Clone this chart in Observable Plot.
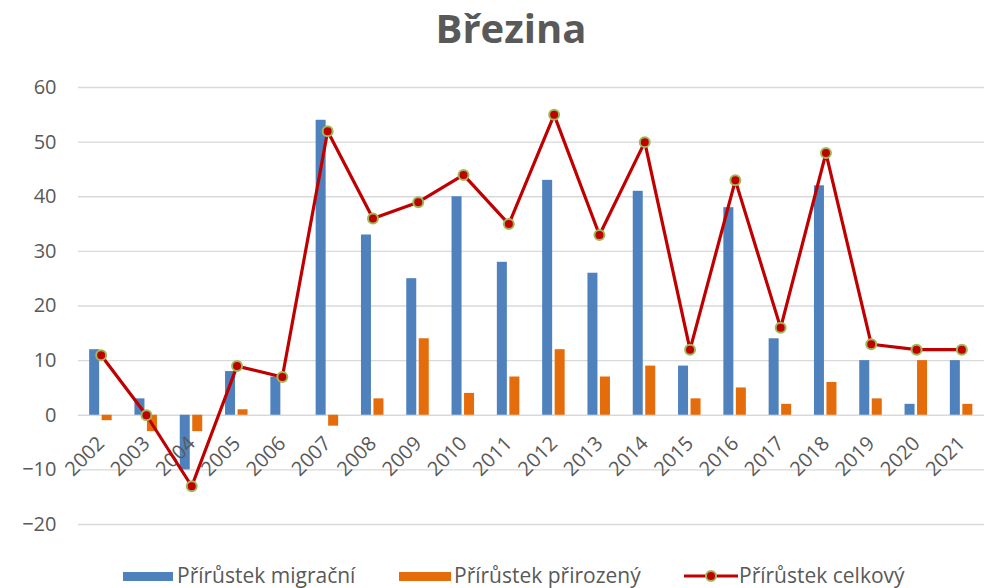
<!DOCTYPE html>
<html>
<head>
<meta charset="utf-8">
<script src="https://cdn.jsdelivr.net/npm/d3@7"></script>
<script src="https://cdn.jsdelivr.net/npm/@observablehq/plot@0.6"></script>
<style>
  html, body { margin: 0; padding: 0; background: #fff; }
  #wrap { position: relative; width: 995px; height: 588px; font-family: "Open Sans", sans-serif; color: #595959; overflow: hidden; }
  #title { position: absolute; top: 8px; left: 511px; transform: translateX(-50%); font-size: 40px; line-height: 40px; font-weight: 700; white-space: nowrap; }
  #chart { position: absolute; top: 60px; left: 0; }
  .lg { position: absolute; font-size: 21px; line-height: 22px; top: 564px; white-space: nowrap; }
  .sw { position: absolute; height: 9px; top: 572px; }
</style>
</head>
<body>
<div id="wrap">
  <div id="title">Březina</div>
  <div id="chart"></div>
  <div class="sw" style="left:123px;width:50px;background:#4f81bd"></div>
  <div class="lg" style="left:177px">Přírůstek migrační</div>
  <div class="sw" style="left:399px;width:52px;background:#e46c0a"></div>
  <div class="lg" style="left:454px">Přírůstek přirozený</div>
  <svg style="position:absolute;left:682px;top:566px" width="58" height="20">
    <line x1="2" x2="56" y1="10" y2="10" stroke="#c00000" stroke-width="3.2"/>
    <circle cx="29" cy="10" r="5" fill="#c00000" stroke="#9bbb59" stroke-width="2"/>
  </svg>
  <div class="lg" style="left:739px">Přírůstek celkový</div>
</div>
<script>
const years = ["2002","2003","2004","2005","2006","2007","2008","2009","2010","2011","2012","2013","2014","2015","2016","2017","2018","2019","2020","2021"];
const migracni = [12,3,-10,8,7,54,33,25,40,28,43,26,41,9,38,14,42,10,2,10];
const prirozeny = [-1,-3,-3,1,0,-2,3,14,4,7,12,7,9,3,5,2,6,3,10,2];
const celkovy = [11,0,-13,9,7,52,36,39,44,35,55,33,50,12,43,16,48,13,12,12];
const yTicks = [-20,-10,0,10,20,30,40,50,60];

const data = years.map((y, i) => ({year: y, migracni: migracni[i], prirozeny: prirozeny[i], celkovy: celkovy[i]}));

const bw = (995 - 78 - 11) / years.length;
const half = bw / 2;

const chart = Plot.plot({
  width: 995,
  height: 490,
  marginLeft: 78,
  marginRight: 11,
  marginTop: 27,
  marginBottom: 26,
  style: {fontFamily: "Open Sans, sans-serif", fontSize: "20px", color: "#595959", background: "transparent"},
  x: {domain: years, padding: 0, round: false, axis: null},
  y: {domain: [-20, 60], ticks: yTicks, label: null, tickSize: 0, tickPadding: 22},
  marks: [
    Plot.ruleY(yTicks, {stroke: "#d9d9d9", strokeWidth: 1.4}),
    Plot.barY(data, {x: "year", y: "migracni", fill: "#4f81bd", insetLeft: half - 11.5, insetRight: half + 1.5}),
    Plot.barY(data, {x: "year", y: "prirozeny", fill: "#e46c0a", insetLeft: half + 1, insetRight: half - 11}),
    Plot.text(data, {x: "year", y: () => 0, text: "year", rotate: -45, textAnchor: "end", dy: 25, dx: 0, fill: "#595959", fontSize: 20}),
    Plot.lineY(data, {x: "year", y: "celkovy", stroke: "#c00000", strokeWidth: 3.2}),
    Plot.dot(data, {x: "year", y: "celkovy", r: 5, fill: "#c00000", stroke: "#9bbb59", strokeWidth: 2})
  ]
});
document.getElementById("chart").appendChild(chart);
</script>
</body>
</html>
